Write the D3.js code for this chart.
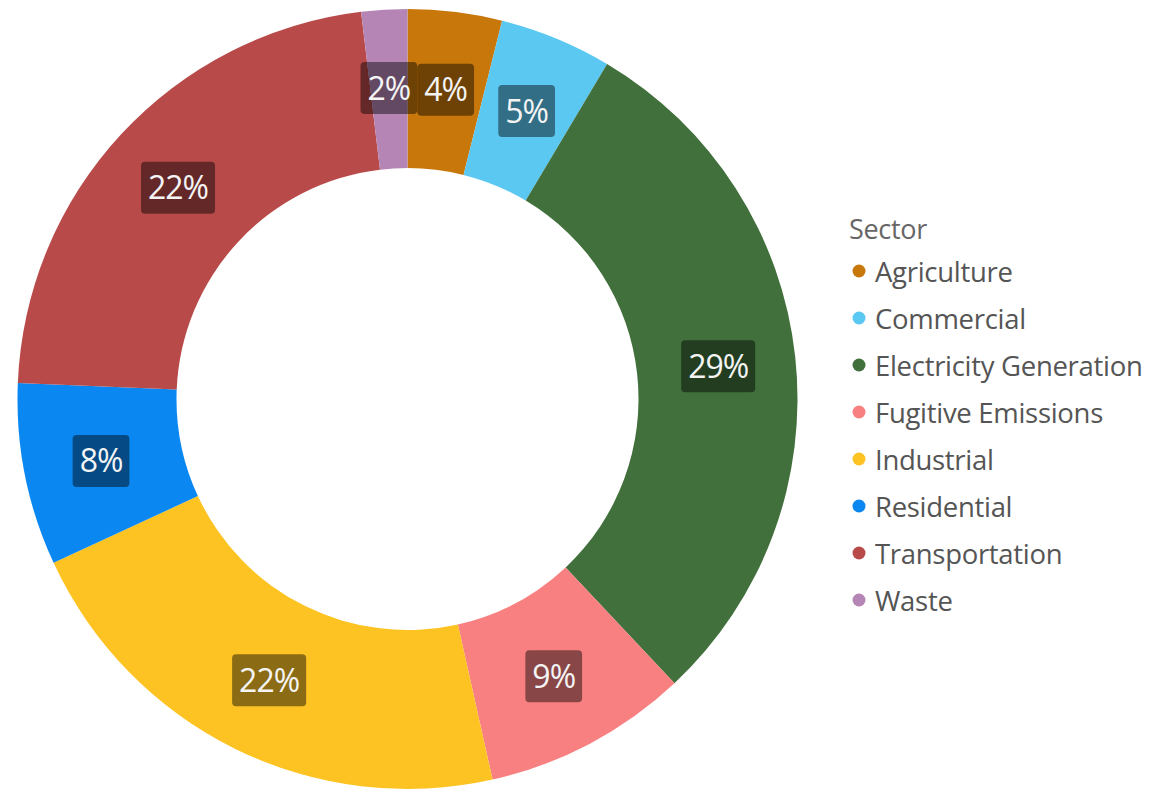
<!DOCTYPE html>
<html>
<head>
<meta charset="utf-8">
<script src="https://cdn.jsdelivr.net/npm/d3@7"></script>
<style>
  html, body { margin: 0; padding: 0; background: #ffffff; }
  svg { display: block; }
</style>
</head>
<body>
<svg id="chart" width="1156" height="792"></svg>
<script>
const categories = ["Agriculture", "Commercial", "Electricity Generation", "Fugitive Emissions", "Industrial", "Residential", "Transportation", "Waste"];
const values = [3.9, 4.65, 29.45, 8.5, 21.6, 7.55, 22.45, 1.9];
const colors = ["#c8770a", "#5bc8f2", "#41703c", "#f98080", "#fdc323", "#0a87f0", "#b94a4a", "#b585b5"];
const legendTitle = "Sector";

const svg = d3.select("#chart");
const cx = 407.5, cy = 399, R = 390, r = 231;
const data = categories.map((c, i) => ({ name: c, value: values[i], color: colors[i] }));
const total = d3.sum(values);

const pie = d3.pie().value(d => d.value).sort(null);
const arc = d3.arc().innerRadius(r).outerRadius(R);
const labelArc = d3.arc().innerRadius((r + R) / 2 + 2).outerRadius((r + R) / 2 + 2);
const arcs = pie(data);

const g = svg.append("g").attr("transform", `translate(${cx},${cy})`);
g.selectAll("path.slice").data(arcs).join("path")
  .attr("class", "slice")
  .attr("d", arc)
  .attr("fill", d => d.data.color);

const fmt = d3.format(".0%");
const labels = g.selectAll("g.lbl").data(arcs).join("g")
  .attr("class", "lbl")
  .attr("transform", d => `translate(${labelArc.centroid(d)})`);

labels.each(function(d) {
  const sel = d3.select(this);
  const rect = sel.append("rect");
  const t = sel.append("text")
    .attr("text-anchor", "middle")
    .attr("dominant-baseline", "central")
    .attr("font-family", "'Open Sans', 'Noto Sans', sans-serif")
    .attr("font-size", 32)
    .attr("letter-spacing", -1)
    .attr("fill", "#f4f4f4")
    .text(fmt(d.data.value / total));
  const bb = t.node().getBBox();
  const w = bb.width + 14, h = 52;
  rect.attr("x", -w / 2).attr("y", -h / 2 + 1).attr("width", w).attr("height", h)
    .attr("rx", 4).attr("fill", "#000").attr("fill-opacity", 0.45);
});

// Legend
const lg = svg.append("g").attr("transform", "translate(849,0)");
lg.append("text")
  .attr("x", 0).attr("y", 228)
  .attr("dominant-baseline", "central")
  .attr("font-family", "'Open Sans', 'Noto Sans', sans-serif")
  .attr("font-size", 27)
  .attr("letter-spacing", -0.3)
  .attr("fill", "#666")
  .text(legendTitle);

const items = lg.selectAll("g.item").data(data).join("g")
  .attr("class", "item")
  .attr("transform", (d, i) => `translate(0,${271 + i * 47})`);
items.append("circle").attr("cx", 10).attr("cy", 0).attr("r", 6.5).attr("fill", d => d.color);
items.append("text")
  .attr("x", 26).attr("y", 0)
  .attr("dominant-baseline", "central")
  .attr("font-family", "'Open Sans', 'Noto Sans', sans-serif")
  .attr("font-size", 27.5)
  .attr("letter-spacing", -0.3)
  .attr("fill", "#555")
  .text(d => d.name);
</script>
</body>
</html>
